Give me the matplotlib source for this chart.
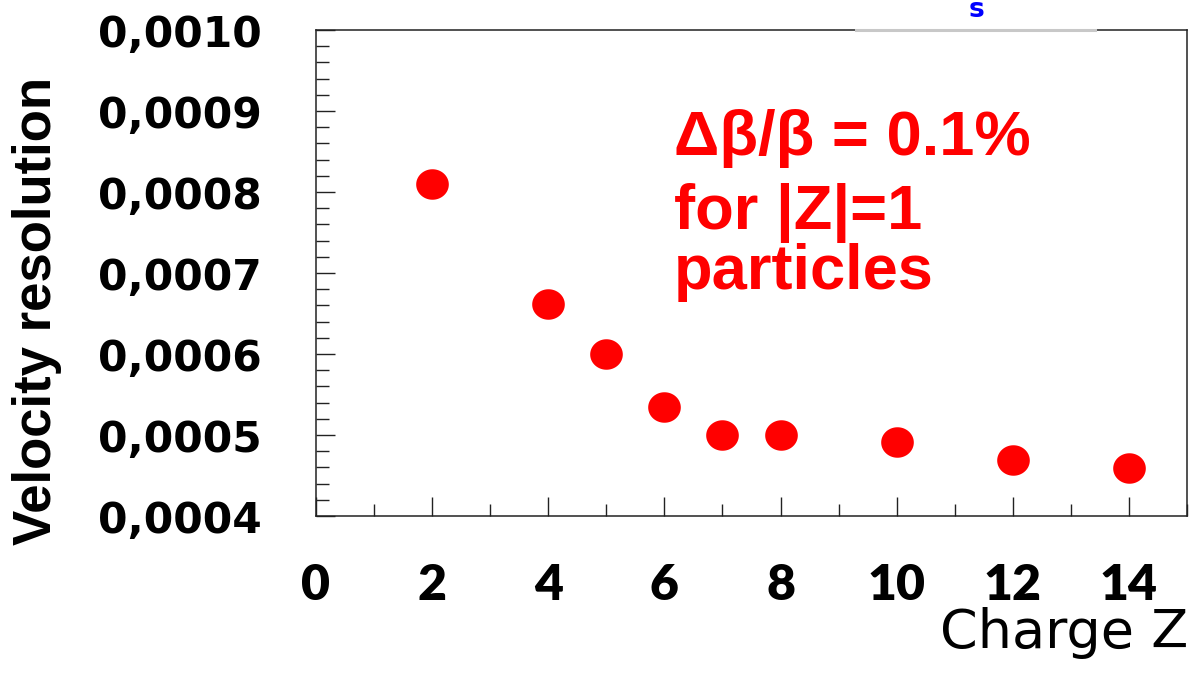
import matplotlib
matplotlib.use("Agg")
import matplotlib.pyplot as plt
import numpy as np
from matplotlib.path import Path
from matplotlib.ticker import MultipleLocator, FixedLocator
from matplotlib.lines import Line2D

# Velocity resolution versus nuclear charge
charge = [2, 4, 5, 6, 7, 8, 10, 12, 14]
resolution = [0.000810, 0.000662, 0.000600, 0.000535, 0.000500,
              0.000500, 0.000491, 0.000469, 0.000459]

x_ticks = [0, 2, 4, 6, 8, 10, 12, 14]
x_tick_labels = ["0", "2", "4", "6", "8", "10", "12", "14"]
y_ticks = [0.0004, 0.0005, 0.0006, 0.0007, 0.0008, 0.0009, 0.0010]
y_tick_labels = ["0,0004", "0,0005", "0,0006", "0,0007", "0,0008", "0,0009", "0,0010"]

note_lines = ["\u0394\u03b2/\u03b2 = 0.1%", "for |Z|=1", "particles"]

W, H = 1198, 675
fig = plt.figure(figsize=(W / 100, H / 100), dpi=100)
ax = fig.add_axes([316 / W, 1 - 516 / H, (1187 - 316) / W, (516 - 30) / H])

# slightly wide elliptical marker
t = np.linspace(0, 2 * np.pi, 64)
ellipse = Path(np.column_stack([1.07 * np.cos(t), np.sin(t)]), closed=True)
ax.plot(charge, resolution, linestyle="none", marker=ellipse,
        markersize=23.5, color="#ff0000", markeredgewidth=0)

ax.set_xlim(0, 15)
ax.set_ylim(0.0004, 0.0010)

ax.xaxis.set_major_locator(FixedLocator(x_ticks))
ax.xaxis.set_minor_locator(MultipleLocator(1))
ax.set_xticklabels(x_tick_labels)
ax.yaxis.set_major_locator(FixedLocator(y_ticks))
ax.yaxis.set_minor_locator(MultipleLocator(0.00002))
ax.set_yticklabels(y_tick_labels)

ax.tick_params(axis="both", which="both", direction="in", color="#222222",
               width=1.0, top=False, right=False)
ax.tick_params(axis="both", which="major", length=13.5)
ax.tick_params(axis="both", which="minor", length=9)
ax.tick_params(axis="y", which="major", pad=39)
ax.tick_params(axis="x", which="major", pad=34)

for lbl in ax.get_yticklabels():
    lbl.set_family("DejaVu Sans")
    lbl.set_fontweight("bold")
    lbl.set_fontsize(30.5)
for lbl in ax.get_xticklabels():
    lbl.set_family(["Lato", "DejaVu Sans"])
    lbl.set_fontweight("heavy")
    lbl.set_fontsize(36)

for s in ax.spines.values():
    s.set_linewidth(1.1)
    s.set_color("#222222")

# annotation, one baseline per line
for line, base in zip(note_lines, [155, 229, 289]):
    fig.text(674 / W, 1 - base / H, line, color="#ff0000", fontsize=45.5,
             fontweight="bold", family=["Liberation Sans", "DejaVu Sans"],
             ha="left", va="baseline")

# axis titles
fig.text(37 / W, 1 - 311 / H, "Velocity resolution", rotation=90,
         ha="center", va="center", fontsize=38, fontweight="bold",
         family=["Liberation Sans", "DejaVu Sans"], color="black")
fig.text(1188 / W, 1 - 648 / H, "Charge Z", ha="right", va="baseline",
         fontsize=39, family="DejaVu Sans", color="black")

# header remnants above the frame
fig.add_artist(Line2D([856 / W, 1095 / W], [1 - 30 / H, 1 - 30 / H],
                      transform=fig.transFigure, color="#c8c8c8", linewidth=2.2))
fig.text(976 / W, 1 - 17 / H, "s", ha="center", va="baseline", fontsize=19,
         fontweight="bold", family="DejaVu Sans", color="#0000ff")

fig.savefig("out.png", dpi=100)
